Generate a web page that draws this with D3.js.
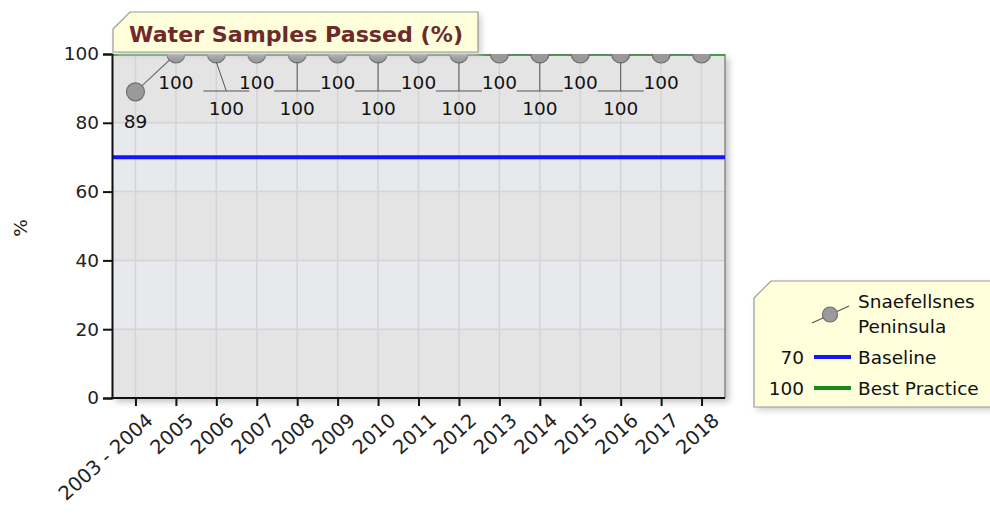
<!DOCTYPE html>
<html>
<head>
<meta charset="utf-8">
<script src="https://cdn.jsdelivr.net/npm/d3@7"></script>
<style>
  body { margin: 0; background: #fff; }
  svg { display: block; font-family: "DejaVu Sans", sans-serif; }
</style>
</head>
<body>
<svg id="chart" width="990" height="521"></svg>
<script>
// data
const categories = ["2003 - 2004", "2005", "2006", "2007", "2008", "2009", "2010", "2011",
  "2012", "2013", "2014", "2015", "2016", "2017", "2018"];
const values = [89, 100, 100, 100, 100, 100, 100, 100, 100, 100, 100, 100, 100, 100, 100];
const yTicks = [0, 20, 40, 60, 80, 100];
const seriesName = ["Snaefellsnes", "Peninsula"];
const refNames = ["Baseline", "Best Practice"];
const refValues = [70, 100];
const refColors = ["#1414ff", "#3aa63a"];
const legendRefColors = ["#1414ff", "#1a8a1a"];
const title = "Water Samples Passed (%)";

const svg = d3.select("#chart");
const pLeft = 112, pRight = 725, pTop = 54, pBottom = 398;
const fs = 18.5;

const x = d3.scalePoint().domain(categories).range([pLeft, pRight]).padding(0.58);
const y = d3.scaleLinear().domain([0, 100]).range([pBottom, pTop]);

const defs = svg.append("defs");
defs.append("clipPath").attr("id", "plotClip")
  .append("rect").attr("x", pLeft).attr("y", pTop).attr("width", pRight - pLeft).attr("height", pBottom - pTop);
const blur = defs.append("filter").attr("id", "shadow").attr("x", "-10%").attr("y", "-10%").attr("width", "130%").attr("height", "130%");
blur.append("feGaussianBlur").attr("stdDeviation", 3);

// plot shadow
svg.append("rect")
  .attr("x", pLeft + 4).attr("y", pTop + 4)
  .attr("width", pRight - pLeft).attr("height", pBottom - pTop)
  .attr("fill", "#c4c4c4").attr("filter", "url(#shadow)");

// alternating bands
const bands = d3.pairs(yTicks);
svg.append("g").selectAll("rect")
  .data(bands)
  .join("rect")
  .attr("x", pLeft).attr("width", pRight - pLeft)
  .attr("y", d => y(d[1])).attr("height", d => y(d[0]) - y(d[1]))
  .attr("fill", (d, i) => i % 2 === 0 ? "#e4e4e5" : "#e7e9ed");

// grid
const grid = svg.append("g").attr("stroke", "#d4d4d4").attr("stroke-width", 1.5);
grid.selectAll(".h").data(yTicks.slice(1, -1)).join("line")
  .attr("x1", pLeft).attr("x2", pRight).attr("y1", d => y(d)).attr("y2", d => y(d));
grid.selectAll(".v").data(categories).join("line")
  .attr("x1", d => x(d)).attr("x2", d => x(d)).attr("y1", pTop).attr("y2", pBottom);

// border right
svg.append("line").attr("x1", pRight).attr("x2", pRight).attr("y1", pTop).attr("y2", pBottom)
  .attr("stroke", "#8a8a8a").attr("stroke-width", 1.5);

// reference lines
const plot = svg.append("g").attr("clip-path", "url(#plotClip)");
refValues.forEach((v, i) => {
  plot.append("line")
    .attr("x1", pLeft).attr("x2", pRight).attr("y1", y(v)).attr("y2", y(v))
    .attr("stroke", refColors[i]).attr("stroke-width", 4);
});

// series
const pts = categories.map((c, i) => ({ c, v: values[i], i }));
plot.append("path")
  .datum(pts)
  .attr("fill", "none").attr("stroke", "#6f6f6f").attr("stroke-width", 1.2)
  .attr("d", d3.line().x(d => x(d.c)).y(d => y(d.v)));
plot.selectAll("circle").data(pts).join("circle")
  .attr("cx", d => x(d.c)).attr("cy", d => y(d.v)).attr("r", 9)
  .attr("fill", "#9a9a9a").attr("stroke", "#6e6e6e").attr("stroke-width", 1.2);

// data labels
const lab = svg.append("g").attr("font-size", fs).attr("fill", "#111").attr("text-anchor", "middle");
pts.forEach(d => {
  const px = x(d.c), py = y(d.v);
  if (d.i === pts.length - 1) return;
  if (d.i === 0) {
    lab.append("text").attr("x", px).attr("y", py + 36).text(d.v);
  } else if (d.i % 2 === 1) {
    lab.append("text").attr("x", px).attr("y", py + 35).text(d.v);
  } else {
    const lx = d.i === 2 ? px + 10 : px;
    lab.append("path")
      .attr("d", `M${px},${py + 8}L${lx},${py + 37}M${lx - 23},${py + 37}H${lx + 23}`)
      .attr("stroke", "#555").attr("stroke-width", 1).attr("fill", "none");
    lab.append("text").attr("x", lx).attr("y", py + 61).text(d.v);
  }
});

// axes
const yAxis = svg.append("g").attr("transform", `translate(${pLeft},0)`)
  .call(d3.axisLeft(y).tickValues(yTicks).tickSize(9).tickPadding(4));
const xAxis = svg.append("g").attr("transform", `translate(0,${pBottom})`)
  .call(d3.axisBottom(x).tickSize(8).tickSizeOuter(0));
[yAxis, xAxis].forEach(a => {
  a.select(".domain").attr("stroke", "#111").attr("stroke-width", 2);
  a.selectAll(".tick line").attr("stroke", "#111").attr("stroke-width", 2);
  a.selectAll("text").attr("font-size", fs).attr("fill", "#222").attr("font-family", "DejaVu Sans, sans-serif");
});
xAxis.select(".domain").attr("d", `M${pLeft - 1},0H${pRight}`);
xAxis.selectAll(".tick text")
  .attr("font-size", 19.5)
  .attr("text-anchor", "end")
  .attr("dy", 0)
  .attr("transform", "translate(11,16) rotate(-42)");

// axis title
svg.append("text")
  .attr("transform", "translate(27,228) rotate(-90)")
  .attr("text-anchor", "middle").attr("font-size", fs).attr("fill", "#222")
  .text("%");

// title tab
const tab = `M113,52V29L130,12H478V52Z`;
svg.append("path").attr("d", tab).attr("transform", "translate(3,3)")
  .attr("fill", "#ccc").attr("filter", "url(#shadow)");
svg.append("path").attr("d", tab).attr("fill", "#ffffdc").attr("stroke", "#9a9a9a").attr("stroke-width", 1.2);
svg.append("text")
  .attr("x", 129).attr("y", 42)
  .attr("font-size", 22).attr("font-weight", "bold").attr("fill", "#6e2a2a")
  .attr("textLength", 334).attr("lengthAdjust", "spacingAndGlyphs")
  .text(title);

// legend
const lg = svg.append("g");
const lgPath = `M754,407V298L771,281H995V407Z`;
lg.append("path").attr("d", lgPath).attr("transform", "translate(3,3)")
  .attr("fill", "#ccc").attr("filter", "url(#shadow)");
lg.append("path").attr("d", lgPath).attr("fill", "#ffffdc").attr("stroke", "#9a9a9a").attr("stroke-width", 1.2);
lg.append("line").attr("x1", 812).attr("y1", 323).attr("x2", 849).attr("y2", 306)
  .attr("stroke", "#555").attr("stroke-width", 1.2);
lg.append("circle").attr("cx", 830).attr("cy", 314.5).attr("r", 7.5)
  .attr("fill", "#9a9a9a").attr("stroke", "#6e6e6e").attr("stroke-width", 1.2);
const lt = lg.append("g").attr("font-size", fs).attr("fill", "#111");
seriesName.forEach((s, i) => lt.append("text").attr("x", 858).attr("y", 308 + i * 25).text(s));
refNames.forEach((s, i) => {
  const yy = 357 + i * 31;
  lt.append("text").attr("x", 804).attr("y", yy + 7).attr("text-anchor", "end").text(refValues[i]);
  lg.append("line").attr("x1", 814).attr("x2", 851).attr("y1", yy).attr("y2", yy)
    .attr("stroke", legendRefColors[i]).attr("stroke-width", 4);
  lt.append("text").attr("x", 858).attr("y", yy + 7).text(s);
});
</script>
</body>
</html>
